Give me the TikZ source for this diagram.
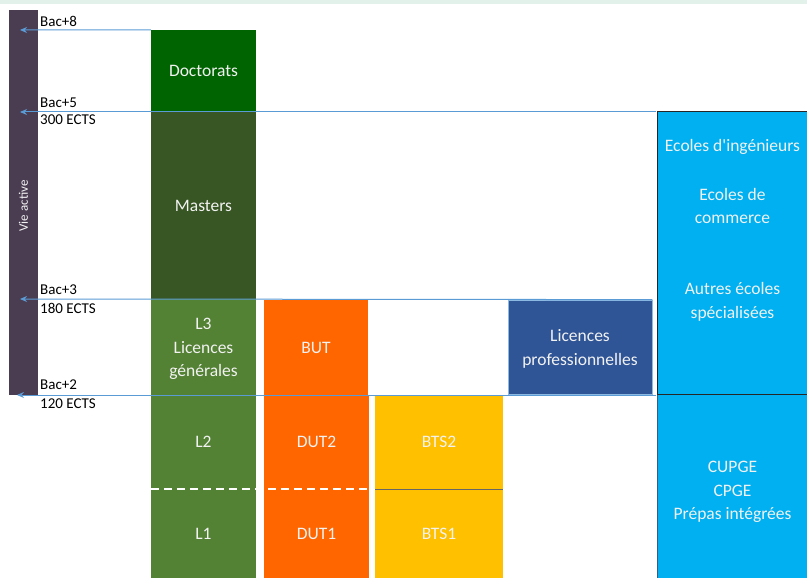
\documentclass[tikz,border=0pt]{standalone}
\usepackage{fontspec}
\setmainfont{Carlito}
\newfontfamily\rawfont{Carlito}[Ligatures=TeXOff]
\usetikzlibrary{arrows.meta}
\definecolor{mint}{HTML}{E3F1EB}
\definecolor{vieC}{HTML}{4A3D52}
\definecolor{docC}{HTML}{006400}
\definecolor{mastC}{HTML}{375623}
\definecolor{licC}{HTML}{548235}
\definecolor{orC}{HTML}{FF6600}
\definecolor{btsC}{HTML}{FFC000}
\definecolor{proC}{HTML}{2F5597}
\definecolor{ecC}{HTML}{00B0F0}
\definecolor{arrC}{HTML}{5B9BD5}
\definecolor{txtC}{HTML}{F2F2F2}
\begin{document}
\begin{tikzpicture}[x=1pt,y=-1pt,
  box/.style={draw=none, inner sep=0pt, text=txtC, align=center,
    font=\fontsize{17.5}{23.5}\selectfont},
  lbl/.style={anchor=west, inner sep=0pt, text=black, align=left,
    font=\fontsize{15}{17}\selectfont},
  arr/.style={draw=arrC, line width=1pt, -{Stealth[length=7pt,width=6pt]}},
  wtxt/.style={inner sep=0pt, text=txtC, align=center,
    font=\fontsize{17.5}{23.5}\selectfont}]
\useasboundingbox (0,0) rectangle (807,578);
\fill[mint] (0,0) rectangle (807,4);
% Vie active bar
\node[box, fill=vieC, minimum width=29, minimum height=385] (vie) at (23.5,202.5) {};
\node[wtxt, rotate=90, font=\fontsize{13}{14}\selectfont] (vietxt) at (23.5,206) {Vie active};
% green column
\node[box, fill=docC, minimum width=105, minimum height=82] (doc) at (203.5,71) {Doctorats};
\node[box, fill=mastC, minimum width=105, minimum height=187] (mast) at (203.5,205.5) {Masters};
\node[box, fill=licC, minimum width=105, minimum height=96] (l3) at (203.5,347) {};
\node[wtxt] (l3t) at (203.5,349) {L3\\Licences\\générales};
\node[box, fill=licC, minimum width=105, minimum height=94] (l2) at (203.5,442) {L2};
\node[box, fill=licC, minimum width=105, minimum height=89] (l1) at (203.5,533.5) {L1};
% orange column
\node[box, fill=orC, minimum width=104, minimum height=95] (but) at (316,347.5) {BUT};
\node[box, fill=orC, minimum width=105, minimum height=94] (dut2) at (316.5,442) {DUT2};
\node[box, fill=orC, minimum width=105, minimum height=89] (dut1) at (316.5,533.5) {DUT1};
% BTS
\node[box, fill=btsC, minimum width=128, minimum height=94] (bts2) at (439,442) {BTS2};
\node[box, fill=btsC, minimum width=128, minimum height=89] (bts1) at (439,533.5) {BTS1};
\draw[draw=black!60, line width=1pt] (bts2.south west) -- (bts2.south east);
% dashed separators
\draw[white, line width=2pt, dash pattern=on 8pt off 5pt] (l2.south west) -- (dut2.south east);
% Licences professionnelles
\node[box, fill=proC, draw=arrC!70, line width=0.8pt, minimum width=144, minimum height=94] (lpro) at (580,347) {};
\node[wtxt] (lprot) at (580,349) {Licences\\professionnelles};
% right boxes
\node[box, fill=ecC, minimum width=149, minimum height=283] (ecoles) at (732.5,253.5) {};
\node[box, fill=ecC, minimum width=149, minimum height=183] (prep) at (732.5,486.5) {};
\node[wtxt] (prept) at (732.5,492) {CUPGE\\CPGE\\Prépas intégrées};
\draw[black!85, line width=1pt] (ecoles.south west) -- (ecoles.north west) -- (ecoles.north east);
\draw[black!85, line width=1pt] (prep.north west) -- (prep.north east);
\draw[arrC!60!black, line width=0.8pt] (prep.north west) -- (prep.south west);
\node[wtxt] (ing) at (732.5,147) {Ecoles d{\rawfont'}ingénieurs};
\node[wtxt] (com) at (732.5,206) {Ecoles de\\commerce};
\node[wtxt] (aut) at (732.5,302) {Autres écoles\\spécialisées};
% arrows
\coordinate (b8) at (20,30);
\coordinate (b5) at (20,112);
\coordinate (b3) at (20,299);
\coordinate (b2) at (17,395);
\coordinate (r5) at (656,112);
\coordinate (r2) at (656,395);
\draw[arr] (doc.north west) -- (b8);
\draw[arr] (r5) -- (b5);
\draw[arr] (lpro.north east) -- (b3);
\draw[arr] (r2) -- (b2);
% labels
\node[lbl] (t8) at (40,21) {Bac+8};
\node[lbl] (t5) at (40,103) {Bac+5};
\node[lbl] (e5) at (40,120) {300 ECTS};
\node[lbl] (t3) at (40,290) {Bac+3};
\node[lbl] (e3) at (40,308) {180 ECTS};
\node[lbl] (t2) at (40,385) {Bac+2};
\node[lbl] (e2) at (40,404) {120 ECTS};
\end{tikzpicture}
\end{document}
